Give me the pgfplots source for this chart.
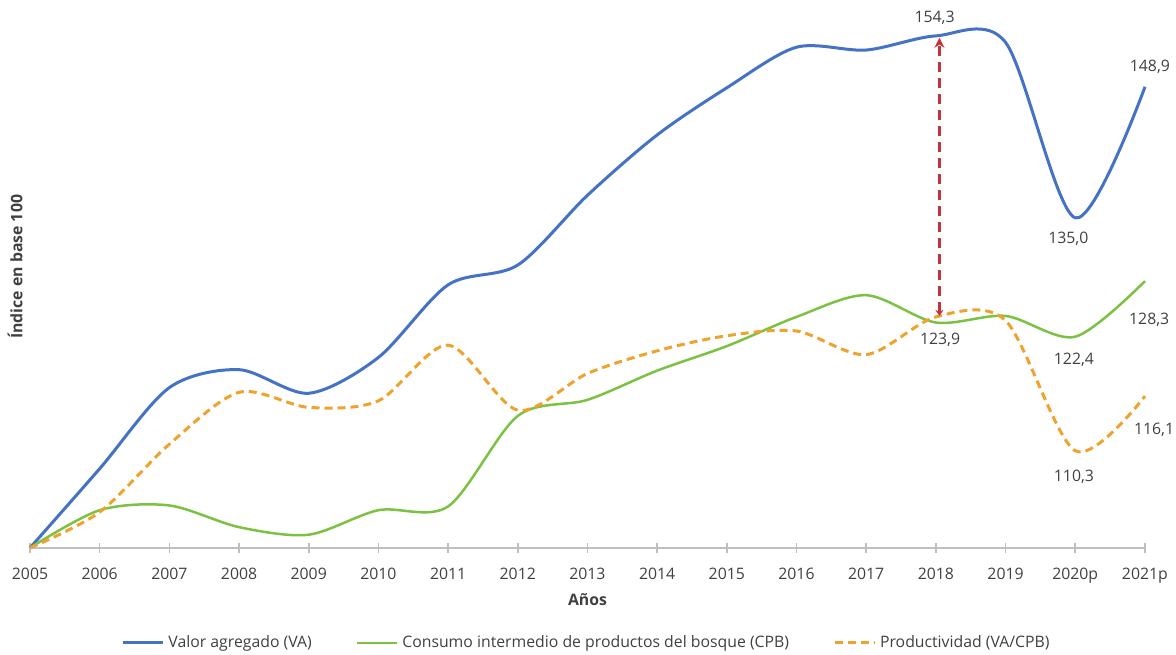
\documentclass[border=0pt]{standalone}
\usepackage{fontspec}
\setmainfont{Open Sans}
\usepackage{pgfplots}
\pgfplotsset{compat=1.18}
\usetikzlibrary{arrows.meta}

\definecolor{vablue}{HTML}{4472C4}
\definecolor{cpbgreen}{HTML}{7CC242}
\definecolor{prodorange}{HTML}{F0A22E}
\definecolor{arrowred}{HTML}{C8303A}
\definecolor{txt}{HTML}{404040}
\definecolor{axgray}{HTML}{BFBFBF}

\begin{document}
\begin{tikzpicture}[font=\fontsize{7.9}{9.5}\selectfont]
\begin{axis}[
  name=ax,
  scale only axis,
  width=557.5pt, height=259.3pt,
  xmin=2005, xmax=2021, ymin=100, ymax=155,
  clip=false,
  axis y line=none,
  axis x line=bottom,
  x axis line style={axgray, line width=0.8pt, -},
  xtick={2005,...,2021},
  xticklabels={2005,2006,2007,2008,2009,2010,2011,2012,2013,2014,2015,2016,2017,2018,2019,2020p,2021p},
  ytick=\empty,
  tick align=center,
  major tick length=5pt,
  tick style={axgray, line width=0.8pt},
  xticklabel style={text=txt, yshift=-4pt},
  legend columns=3,
  legend style={at={(0.5,-0.183)}, anchor=center, draw=none, fill=none,
    text=txt, font=\fontsize{7.9}{9.5}\selectfont,
    /tikz/every even column/.append style={column sep=20pt}},
  legend image code/.code={\draw[#1] (0pt,0pt) -- (20pt,0pt);},
  smooth,
]
% Valor agregado (VA)
\addplot[vablue, line width=1.5pt] coordinates {
  (2005,100) (2006,108.4) (2007,117.0) (2008,118.9) (2009,116.4)
  (2010,120.2) (2011,127.9) (2012,130.0) (2013,137.4) (2014,143.8)
  (2015,148.8) (2016,153.1) (2017,152.8) (2018,154.3) (2019,153.6)
  (2020,135.0) (2021,148.9)
};
\addlegendentry{Valor agregado (VA)}
% Consumo intermedio (CPB)
\addplot[cpbgreen, line width=1.25pt] coordinates {
  (2005,100) (2006,104.0) (2007,104.5) (2008,102.2) (2009,101.4)
  (2010,104.0) (2011,104.4) (2012,114.0) (2013,115.7) (2014,118.8)
  (2015,121.4) (2016,124.5) (2017,126.8) (2018,123.9) (2019,124.6)
  (2020,122.4) (2021,128.3)
};
\addlegendentry{Consumo intermedio de productos del bosque (CPB)}
% Productividad (VA/CPB)
\addplot[prodorange, line width=1.5pt, dash pattern=on 4pt off 2.5pt] coordinates {
  (2005,100) (2006,103.8) (2007,111.0) (2008,116.5) (2009,114.9)
  (2010,115.6) (2011,121.5) (2012,114.6) (2013,118.5) (2014,120.9)
  (2015,122.5) (2016,123.0) (2017,120.5) (2018,124.5) (2019,124.1)
  (2020,110.3) (2021,116.1)
};
\addlegendentry{Productividad (VA/CPB)}

\draw[arrowred, line width=1.4pt, dash pattern=on 5pt off 3pt,
  {Stealth[length=3pt,width=4pt]}-{Stealth[length=5pt,width=5pt]}]
  (axis cs:2018.05,124.6) -- (axis cs:2018.05,154.1);

\begin{scope}[every node/.style={text=txt, inner sep=0pt}]
\node at (axis cs:2017.98,156.2) {154,3};
\node at (axis cs:2021.07,151.0) {148,9};
\node at (axis cs:2019.9,132.8) {135,0};
\node at (axis cs:2021.06,124.2) {128,3};
\node at (axis cs:2018.06,122.1) {123,9};
\node at (axis cs:2019.98,119.9) {122,4};
\node at (axis cs:2021.13,112.5) {116,1};
\node at (axis cs:2019.98,107.5) {110,3};
\node[font=\bfseries\fontsize{7.9}{9.5}\selectfont] at ([yshift=-26pt]rel axis cs:0.5,0) {Años};
\node[font=\bfseries\fontsize{7.9}{9.5}\selectfont, rotate=90] at ([xshift=-7.5pt]rel axis cs:0,0.542) {Índice en base 100};
\end{scope}
\end{axis}
\pgfresetboundingbox
\path[use as bounding box] ([xshift=-15pt,yshift=-53.5pt]ax.south west) rectangle ([xshift=15.5pt,yshift=14.65pt]ax.north east);
\end{tikzpicture}
\end{document}
